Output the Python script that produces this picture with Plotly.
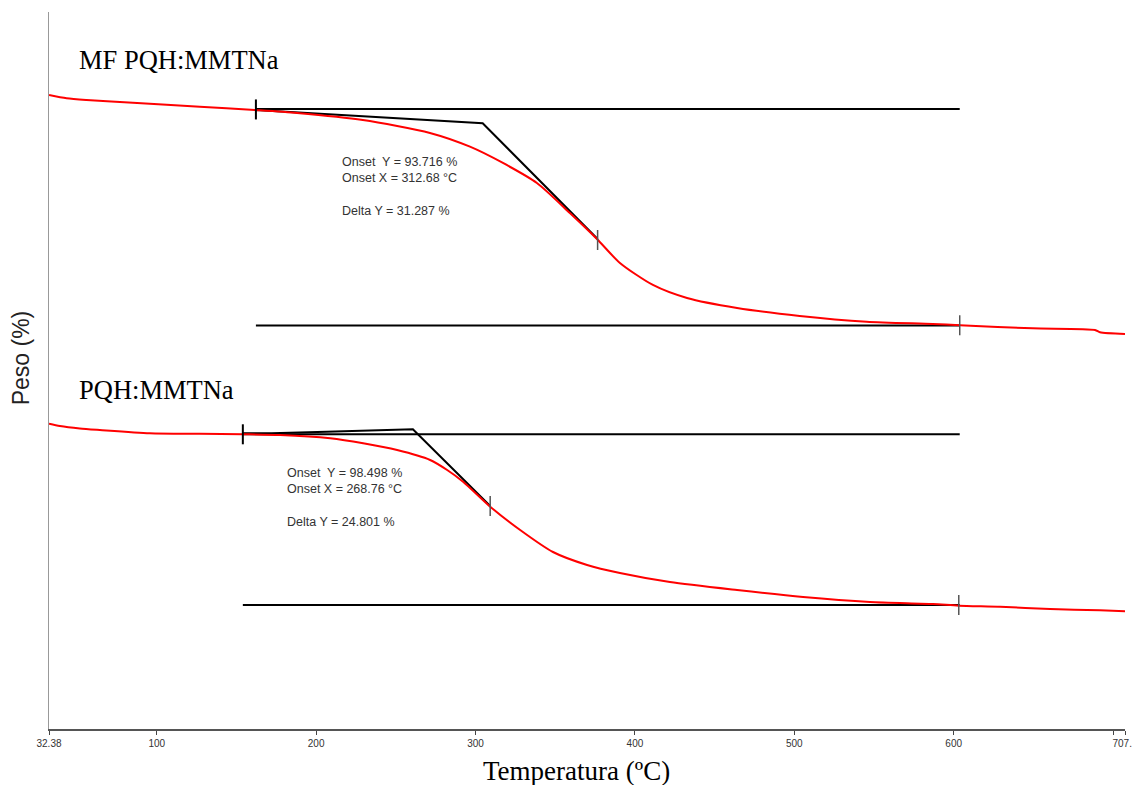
import plotly.graph_objects as go

# ---------------- data (temperature in ºC, weight in %) ----------------
top_temp = [32.4, 43.4, 55.9, 85.0, 127.0, 161.5, 188.0, 229.3, 271.4, 296.5,
            317.2, 338.5, 359.2, 376.2, 390.6, 411.3, 432.7, 464.1, 503.4,
            545.4, 586.8, 603.8, 649.6, 688.7, 691.8, 707.5]
top_weight = [100.00, 99.53, 99.28, 98.89, 98.31, 97.83, 97.40, 96.38, 94.50, 92.51,
              90.15, 87.25, 82.90, 79.13, 75.66, 72.47, 70.58, 69.13, 67.98,
              67.15, 66.82, 66.63, 66.19, 65.95, 65.61, 65.37]

bot_temp = [32.4, 39.2, 51.7, 64.3, 95.6, 127.0, 154.0, 177.4, 208.8, 229.5, 250.8,
            271.5, 282.2, 292.2, 309.2, 328.0, 348.6, 370.0, 390.6, 422.0, 464.1,
            505.5, 547.5, 587.0, 603.2, 629.1, 660.5, 691.8, 707.5]
bot_weight = [99.90, 99.56, 99.20, 98.98, 98.51, 98.43, 98.36, 98.26, 97.78, 97.06, 96.08,
              94.64, 93.19, 91.49, 87.87, 84.49, 81.30, 79.42, 78.26, 76.95, 75.79,
              74.78, 74.06, 73.77, 73.52, 73.37, 73.04, 72.85, 72.71]

# onset construction (top sample)
top_base_temp = [162.2, 603.8]
top_upper_base = 97.98
top_lower_base = 66.60
top_tan_temp = [162.2, 304.5, 376.6]
top_tan_weight = [97.83, 95.90, 79.13]
top_mark_temp = [162.2, 376.6, 603.8]
top_mark_weight = [97.91, 78.99, 66.63]

# onset construction (bottom sample)
bot_base_temp = [154.0, 603.8]
bot_upper_base = 98.36
bot_lower_base = 73.62
bot_tan_temp = [154.0, 172.1, 206.5, 241.9, 260.7, 309.2]
bot_tan_weight = [98.51, 98.51, 98.74, 98.98, 99.08, 87.97]
bot_mark_temp = [154.0, 309.2, 603.2]
bot_mark_weight = [98.36, 87.97, 73.62]

# vertical stacking offsets of the two thermograms
TOP_OFFSET = -8.12
BOT_OFFSET = -55.65

sample_names = ["MF PQH:MMTNa", "PQH:MMTNa"]
top_results = ["Onset  Y = 93.716 %", "Onset X = 312.68 °C", "", "Delta Y = 31.287 %"]
bot_results = ["Onset  Y = 98.498 %", "Onset X = 268.76 °C", "", "Delta Y = 24.801 %"]

x_tickvals = [32.38, 100, 200, 300, 400, 500, 600, 700, 707.5]
x_ticktext = ["32.38", "100", "200", "300", "400", "500", "600", "", "707.\u2007"]

# ---------------- style ----------------
RED = "#ff0000"
MARK_HALF = 1.45

fig = go.Figure()


def sh(vals, off):
    return [v + off for v in vals]


def add_line(x, y, color, width, shape="linear"):
    fig.add_trace(go.Scatter(x=x, y=y, mode="lines",
                             line=dict(color=color, width=width, shape=shape, smoothing=0.7),
                             hoverinfo="skip", showlegend=False))


for temps, weights, off, base_t, ub, lb, tt, tw, mt, mw in [
    (top_temp, top_weight, TOP_OFFSET, top_base_temp, top_upper_base, top_lower_base,
     top_tan_temp, top_tan_weight, top_mark_temp, top_mark_weight),
    (bot_temp, bot_weight, BOT_OFFSET, bot_base_temp, bot_upper_base, bot_lower_base,
     bot_tan_temp, bot_tan_weight, bot_mark_temp, bot_mark_weight),
]:
    add_line(base_t, [ub + off] * 2, "black", 2)
    add_line(base_t, [lb + off] * 2, "black", 2)
    add_line(tt, sh(tw, off), "black", 2)
    add_line(temps, sh(weights, off), RED, 2, shape="spline")
    for i, (t, w) in enumerate(zip(mt, mw)):
        add_line([t, t], [w + off - MARK_HALF, w + off + MARK_HALF],
                 "black" if i == 0 else "#555555", 2 if i == 0 else 1.5)

ann = []
# sample titles
ann.append(dict(x=49.8, y=96.95, xref="x", yref="y", text=sample_names[0], showarrow=False,
                xanchor="left", yanchor="middle",
                font=dict(family="Liberation Serif, Times New Roman", size=26.5, color="black")))
ann.append(dict(x=49.8, y=49.2, xref="x", yref="y", text=sample_names[1], showarrow=False,
                xanchor="left", yanchor="middle",
                font=dict(family="Liberation Serif, Times New Roman", size=26.5, color="black")))
# results text
ann.append(dict(x=215.2, y=83.45, xref="x", yref="y", text="<br>".join(top_results),
                showarrow=False, xanchor="left", yanchor="top", align="left",
                font=dict(family="Liberation Sans, Arial", size=12.5, color="#333333")))
ann.append(dict(x=180.3, y=38.45, xref="x", yref="y", text="<br>".join(bot_results),
                showarrow=False, xanchor="left", yanchor="top", align="left",
                font=dict(family="Liberation Sans, Arial", size=12.5, color="#333333")))
# axis titles
ann.append(dict(x=(576 - 49) / 1076, y=-0.0345, xref="paper", yref="paper",
                text="Temperatura (ºC)", showarrow=False, xanchor="center", yanchor="top",
                font=dict(family="Liberation Serif, Times New Roman", size=27, color="black")))
ann.append(dict(x=-0.026, y=0.517, xref="paper", yref="paper", text="Peso (%)",
                showarrow=False, textangle=-90, xanchor="center", yanchor="middle",
                font=dict(family="Liberation Sans, Arial", size=23, color="#222222")))

fig.update_layout(
    width=1133, height=785,
    margin=dict(l=49, r=8, t=12, b=56, autoexpand=False),
    plot_bgcolor="white", paper_bgcolor="white",
    showlegend=False,
    annotations=ann,
    xaxis=dict(range=[32.38, 707.5], tickmode="array", tickvals=x_tickvals, ticktext=x_ticktext,
               ticks="outside", ticklen=4, tickwidth=1, tickcolor="#444444",
               showline=True, linecolor="#555555", linewidth=1.5, automargin=False,
               showgrid=False, zeroline=False, ticklabeloverflow="allow",
               tickfont=dict(family="Liberation Sans, Arial", size=10, color="#333333")),
    yaxis=dict(range=[0, 103.91], showticklabels=False, ticks="", automargin=False,
               showline=True, linecolor="#999999", linewidth=1,
               showgrid=False, zeroline=False),
)

fig.write_html("out.html", config={"displayModeBar": False},
               post_script="document.body.style.margin='0';document.body.style.overflow='hidden';")
